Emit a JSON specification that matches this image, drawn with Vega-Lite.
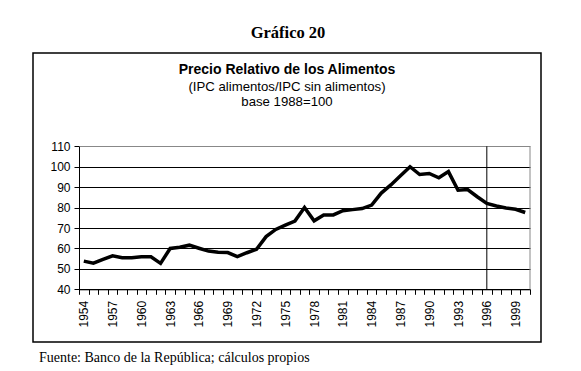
{
  "$schema": "https://vega.github.io/schema/vega-lite/v6.json",
  "width": 508,
  "height": 289,
  "autosize": {"type": "none"},
  "padding": {"left": 33, "top": 53, "right": 40, "bottom": 29},
  "background": "white",
  "config": {"view": {"stroke": "black", "strokeWidth": 1.5}, "font": "Liberation Sans"},
  "title": {
    "text": "Precio Relativo de los Alimentos",
    "subtitle": ["(IPC alimentos/IPC sin alimentos)", "base 1988=100"],
    "anchor": "middle",
    "offset": -84,
    "font": "Liberation Sans",
    "fontSize": 14,
    "fontWeight": "bold",
    "color": "black",
    "subtitleFont": "Liberation Sans",
    "subtitleFontSize": 13.2,
    "subtitleColor": "black",
    "subtitlePadding": 4,
    "subtitleLineHeight": 15
  },
  "data": {
    "values": [
      {"year": 1954, "value": 53.8}, {"year": 1955, "value": 52.8}, {"year": 1956, "value": 54.6},
      {"year": 1957, "value": 56.4}, {"year": 1958, "value": 55.5}, {"year": 1959, "value": 55.5},
      {"year": 1960, "value": 55.9}, {"year": 1961, "value": 55.9}, {"year": 1962, "value": 52.7},
      {"year": 1963, "value": 60.0}, {"year": 1964, "value": 60.6}, {"year": 1965, "value": 61.6},
      {"year": 1966, "value": 60.1}, {"year": 1967, "value": 58.7}, {"year": 1968, "value": 58.1},
      {"year": 1969, "value": 58.0}, {"year": 1970, "value": 56.0}, {"year": 1971, "value": 57.9},
      {"year": 1972, "value": 59.6}, {"year": 1973, "value": 65.8}, {"year": 1974, "value": 69.3},
      {"year": 1975, "value": 71.4}, {"year": 1976, "value": 73.4}, {"year": 1977, "value": 80.0},
      {"year": 1978, "value": 73.5}, {"year": 1979, "value": 76.4}, {"year": 1980, "value": 76.4},
      {"year": 1981, "value": 78.5}, {"year": 1982, "value": 79.0}, {"year": 1983, "value": 79.5},
      {"year": 1984, "value": 81.2}, {"year": 1985, "value": 87.1}, {"year": 1986, "value": 91.1},
      {"year": 1987, "value": 95.6}, {"year": 1988, "value": 100.0}, {"year": 1989, "value": 96.2},
      {"year": 1990, "value": 96.7}, {"year": 1991, "value": 94.6}, {"year": 1992, "value": 97.6},
      {"year": 1993, "value": 88.5}, {"year": 1994, "value": 88.8}, {"year": 1995, "value": 85.3},
      {"year": 1996, "value": 82.0}, {"year": 1997, "value": 80.8}, {"year": 1998, "value": 79.8},
      {"year": 1999, "value": 79.2}, {"year": 2000, "value": 77.6}
    ]
  },
  "layer": [
    {
      "mark": {"type": "line", "color": "black", "strokeWidth": 3.5},
      "encoding": {
        "x": {
          "field": "year",
          "type": "ordinal",
          "scale": {"range": [46, 497], "paddingInner": 0, "paddingOuter": 0},
          "axis": {
            "orient": "bottom",
            "offset": -52.7,
            "grid": false,
            "domainColor": "black",
            "tickColor": "black",
            "tickSize": 5,
            "tickBand": "extent",
            "labelAngle": -90,
            "labelAlign": "right",
            "labelBaseline": "middle",
            "labelExpr": "(datum.value - 1954) % 3 === 0 ? datum.label : ''",
            "labelOverlap": false,
            "labelFont": "Liberation Sans",
            "labelFontSize": 12,
            "labelColor": "black",
            "labelPadding": 6,
            "title": "Fuente: Banco de la República; cálculos propios",
            "titleFont": "Liberation Serif",
            "titleFontSize": 14,
            "titleFontWeight": "normal",
            "titleColor": "black",
            "titleAnchor": "start",
            "titleAlign": "left",
            "titleBaseline": "alphabetic",
            "titleX": 5.5,
            "titleY": 72.5
          }
        },
        "y": {
          "field": "value",
          "type": "quantitative",
          "scale": {"domain": [40, 110], "range": [236.3, 93.3], "nice": false, "zero": false},
          "axis": {
            "orient": "left",
            "offset": -46,
            "values": [40, 50, 60, 70, 80, 90, 100, 110],
            "grid": true,
            "gridColor": {"condition": {"test": "datum.value === 110", "value": "#888888"}, "value": "black"},
            "gridWidth": 1,
            "gridOpacity": 1,
            "domainColor": "black",
            "tickColor": "black",
            "tickSize": 5,
            "labelFont": "Liberation Sans",
            "labelFontSize": 12,
            "labelColor": "black",
            "labelPadding": 4,
            "title": "Gráfico 20",
            "titleAngle": 0,
            "titleFont": "Liberation Serif",
            "titleFontSize": 16.5,
            "titleFontWeight": "bold",
            "titleColor": "black",
            "titleAlign": "center",
            "titleBaseline": "alphabetic",
            "titleX": 208.5,
            "titleY": -16
          }
        }
      }
    },
    {
      "data": {"values": [{}]},
      "mark": {"type": "rule", "color": "#888888", "strokeWidth": 1},
      "encoding": {
        "x": {"datum": 2000, "type": "ordinal", "bandPosition": 1},
        "y": {"datum": 40, "type": "quantitative"},
        "y2": {"datum": 110}
      }
    },
    {
      "data": {"values": [{}]},
      "mark": {"type": "rule", "color": "black", "strokeWidth": 1},
      "encoding": {
        "x": {"datum": 1996, "type": "ordinal"},
        "y": {"datum": 40, "type": "quantitative"},
        "y2": {"datum": 110}
      }
    }
  ]
}
